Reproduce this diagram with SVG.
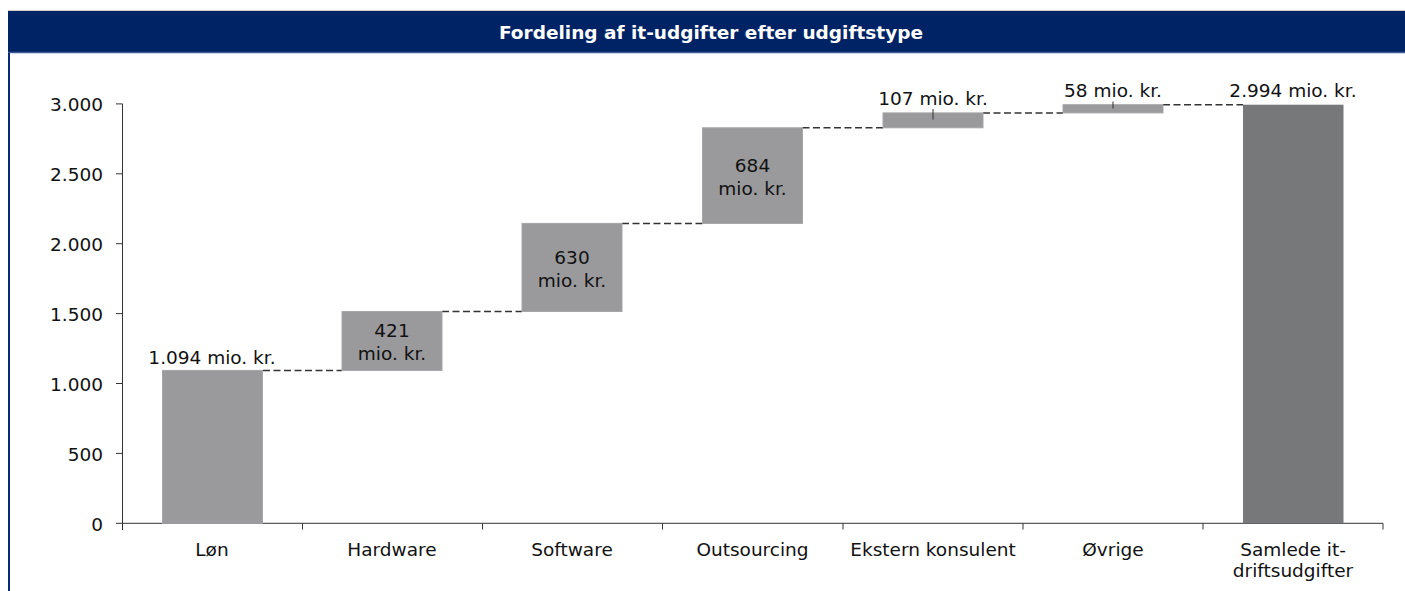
<svg xmlns="http://www.w3.org/2000/svg" width="1405" height="591" viewBox="0 0 1405 591">
  <style>
    .title { font-family: "DejaVu Sans", Verdana, sans-serif; font-size: 18.5px; font-weight: bold; fill: #ffffff; }
    .lbl { font-family: "DejaVu Sans", Verdana, sans-serif; font-size: 18.5px; fill: #111111; }
    .ax { stroke: #333333; stroke-width: 1; fill: none; }
    .bar { fill: #9a9a9c; stroke: #a6a6a8; stroke-width: 1; }
    .total { fill: #76787a; }
    .dash { stroke: #333333; stroke-width: 1.5; stroke-dasharray: 7 3.5; fill: none; }
    .lead { stroke: #333333; stroke-width: 1; }
  </style>

  <rect width="1405" height="591" fill="#ffffff"/>

  <!-- header banner and frame -->
  <g id="header">
    <line x1="8" y1="10.5" x2="1405" y2="10.5" stroke="#cccccc" stroke-width="1"/>
    <rect x="8" y="11" width="1397" height="41" fill="#002366"/>
    <line x1="8" y1="52.5" x2="1405" y2="52.5" stroke="#3d5c99" stroke-width="1.5"/>
    <line x1="9" y1="53" x2="9" y2="591" stroke="#0a2a78" stroke-width="2"/>
    <text class="title" x="711" y="38.5" text-anchor="middle">Fordeling af it-udgifter efter udgiftstype</text>
  </g>

  <!-- axes -->
  <g id="axes">
    <line class="ax" x1="122.5" y1="103.9" x2="122.5" y2="530"/>
    <line class="ax" x1="116" y1="523.3" x2="1383" y2="523.3"/>
    <g class="ax">
      <line x1="116" y1="103.9" x2="122.5" y2="103.9"/>
      <line x1="116" y1="173.8" x2="122.5" y2="173.8"/>
      <line x1="116" y1="243.7" x2="122.5" y2="243.7"/>
      <line x1="116" y1="313.6" x2="122.5" y2="313.6"/>
      <line x1="116" y1="383.5" x2="122.5" y2="383.5"/>
      <line x1="116" y1="453.4" x2="122.5" y2="453.4"/>
      <line x1="302.5" y1="523.3" x2="302.5" y2="529.5"/>
      <line x1="482.5" y1="523.3" x2="482.5" y2="529.5"/>
      <line x1="662.5" y1="523.3" x2="662.5" y2="529.5"/>
      <line x1="843" y1="523.3" x2="843" y2="529.5"/>
      <line x1="1023" y1="523.3" x2="1023" y2="529.5"/>
      <line x1="1203" y1="523.3" x2="1203" y2="529.5"/>
      <line x1="1383" y1="523.3" x2="1383" y2="529.5"/>
    </g>
    <g class="lbl" text-anchor="end">
      <text x="103" y="111.4">3.000</text>
      <text x="103" y="181.3">2.500</text>
      <text x="103" y="251.2">2.000</text>
      <text x="103" y="321.1">1.500</text>
      <text x="103" y="391">1.000</text>
      <text x="103" y="460.9">500</text>
      <text x="103" y="530.8">0</text>
    </g>
    <g class="lbl" text-anchor="middle">
      <text x="212" y="556">Løn</text>
      <text x="392" y="556">Hardware</text>
      <text x="572" y="556">Software</text>
      <text x="752.5" y="556">Outsourcing</text>
      <text x="933" y="556">Ekstern konsulent</text>
      <text x="1113" y="556">Øvrige</text>
      <text x="1293" y="556">Samlede it-</text>
      <text x="1293" y="577">driftsudgifter</text>
    </g>
  </g>

  <!-- dashed links between bar tops -->
  <g id="connectors">
    <line class="dash" x1="263" y1="370.4" x2="342" y2="370.4"/>
    <line class="dash" x1="442" y1="311.5" x2="522" y2="311.5"/>
    <line class="dash" x1="622" y1="223.4" x2="702.5" y2="223.4"/>
    <line class="dash" x1="802.5" y1="127.8" x2="883" y2="127.8"/>
    <line class="dash" x1="983" y1="112.9" x2="1063" y2="112.9"/>
    <line class="dash" x1="1163" y1="104.7" x2="1243" y2="104.7"/>
  </g>

  <g id="bar-loen">
    <rect class="bar" x="162.5" y="370.4" width="100" height="152.9"/>
    <text class="lbl" x="212" y="363.5" text-anchor="middle">1.094 mio. kr.</text>
  </g>

  <g id="bar-hardware">
    <rect class="bar" x="342" y="311.5" width="100" height="58.9"/>
    <text class="lbl" x="392" y="337" text-anchor="middle">421</text>
    <text class="lbl" x="392" y="360" text-anchor="middle">mio. kr.</text>
  </g>

  <g id="bar-software">
    <rect class="bar" x="522" y="223.4" width="100" height="88.1"/>
    <text class="lbl" x="572" y="264" text-anchor="middle">630</text>
    <text class="lbl" x="572" y="287" text-anchor="middle">mio. kr.</text>
  </g>

  <g id="bar-outsourcing">
    <rect class="bar" x="702.5" y="127.8" width="100" height="95.6"/>
    <text class="lbl" x="752.5" y="172" text-anchor="middle">684</text>
    <text class="lbl" x="752.5" y="195" text-anchor="middle">mio. kr.</text>
  </g>

  <g id="bar-ekstern">
    <rect class="bar" x="883" y="112.9" width="100" height="14.9"/>
    <line class="lead" x1="933" y1="109" x2="933" y2="119.5"/>
    <text class="lbl" x="933" y="105" text-anchor="middle">107 mio. kr.</text>
  </g>

  <g id="bar-oevrige">
    <rect class="bar" x="1063" y="104.7" width="100" height="8.2"/>
    <line class="lead" x1="1113" y1="101.5" x2="1113" y2="108.5"/>
    <text class="lbl" x="1113" y="96.5" text-anchor="middle">58 mio. kr.</text>
  </g>

  <g id="bar-total">
    <rect class="total" x="1243" y="104.7" width="100.5" height="418.6"/>
    <text class="lbl" x="1293" y="96.5" text-anchor="middle">2.994 mio. kr.</text>
  </g>
</svg>
